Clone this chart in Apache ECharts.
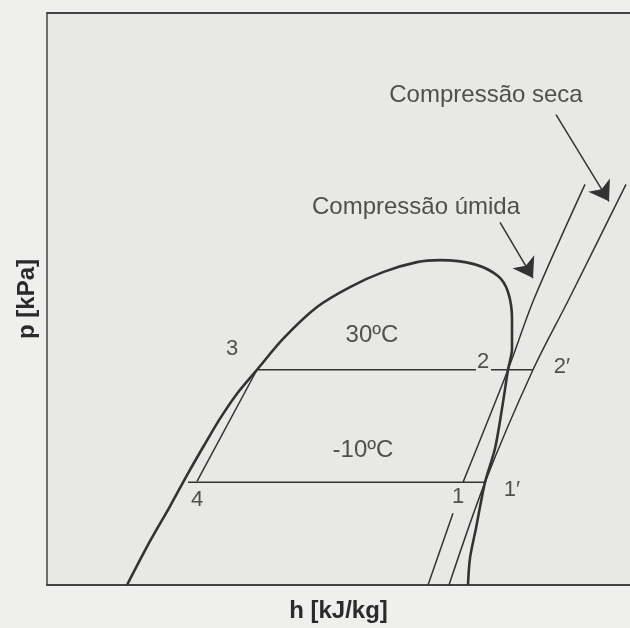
<!DOCTYPE html>
<html>
<head>
<meta charset="utf-8">
<script src="https://cdn.jsdelivr.net/npm/echarts@6/dist/echarts.min.js"></script>
<style>
  html, body { margin: 0; padding: 0; background: #efefed; }
  #chart { width: 630px; height: 628px; }
</style>
</head>
<body>
<div id="chart"></div>
<script>
// saturation dome (h, p in drawing units)
const domeH = [40, 51.5, 61.5, 70.5, 78.5, 86.5, 95, 105, 118, 135, 151.5, 168, 185, 196.5, 213.5, 225.5, 230.5, 232.5, 232.5, 230.5, 227.5, 224, 219, 214.5, 211.5, 210.5];
const domeP = [0, 22, 39.5, 56, 70, 83.5, 96, 108, 123.5, 139.5, 149.5, 157, 162, 163, 161, 155, 147, 133.5, 118.5, 108, 88.5, 68.5, 51.5, 28.5, 13.5, 0];

// cycle: condenser / evaporator pressures
const highP = 108;
const lowP = 51.5;
const condH = [105, 214.5];   // 3 -> label 2
const cond2H = [222, 243];    // after label 2 -> 2'
const evapH = [70.5, 219];    // 4 -> 1'
const expH = [105, 75];       // 3 -> 4
const expP = [108, 52];

// compression lines
const wetH = [269, 243.5, 230.5, 208];
const wetP = [201, 143.5, 108, 51.5];
const wetLowH = [203, 190.5];
const wetLowP = [36, 0];
const dryH = [289.5, 261, 243, 219, 201];
const dryP = [201, 143.5, 108, 51.5, 0];

// arrows [from, to]
const arrowSeca = [[254.5, 236], [281, 192.5]];
const arrowUmida = [[226.5, 182], [243, 154]];

// point labels
const pointText = ['3', '2', '2\u2032', '4', '1', '1\u2032'];
const pointH = [92.5, 218, 257.5, 75, 205.5, 232.5];
const pointP = [118.5, 112, 109.5, 42.5, 44, 47.5];

// other texts
const noteText = ['30ºC', '-10ºC', 'Compressão seca', 'Compressão úmida'];
const noteH = [162.5, 158, 219.5, 184.5];
const noteP = [125, 67.5, 245.5, 189.5];

const zip = (xs, ys) => xs.map((x, i) => [x, ys[i]]);
const ink = '#333';
const font = '"Liberation Sans", Arial, sans-serif';

const thin = (data) => ({
  type: 'line',
  data,
  symbol: 'none',
  smooth: 0.3,
  silent: true,
  lineStyle: { color: ink, width: 1.5 }
});

const textSeries = (texts, hs, ps, size) => ({
  type: 'scatter',
  silent: true,
  symbolSize: 1,
  itemStyle: { color: 'transparent' },
  data: texts.map((t, i) => ({ name: t, value: [hs[i], ps[i]] })),
  label: {
    show: true,
    position: 'inside',
    formatter: '{b}',
    color: '#282828',
    fontSize: size,
    fontFamily: font
  }
});

const chart = echarts.init(document.getElementById('chart'));

chart.setOption({
  backgroundColor: '#efefed',
  animation: false,
  grid: {
    left: 47, top: 13, bottom: 41, right: 0,
    show: true, backgroundColor: '#e8e8e6', borderWidth: 0
  },
  xAxis: [
    {
      type: 'value', min: 0, max: 291.5,
      name: 'h [kJ/kg]', nameLocation: 'middle', nameGap: 14,
      nameTextStyle: { fontFamily: font, fontWeight: 'bold', fontSize: 24, color: '#2a2a2a' },
      axisLine: { show: true, lineStyle: { color: '#444', width: 2 } },
      axisTick: { show: false }, axisLabel: { show: false }, splitLine: { show: false }
    },
    {
      type: 'value', min: 0, max: 291.5, position: 'top',
      axisLine: { show: true, lineStyle: { color: '#444', width: 2 } },
      axisTick: { show: false }, axisLabel: { show: false }, splitLine: { show: false }
    }
  ],
  yAxis: {
    type: 'value', min: 0, max: 287,
    name: 'p [kPa]', nameLocation: 'middle', nameGap: 8, nameRotate: 90,
    nameTextStyle: { fontFamily: font, fontWeight: 'bold', fontSize: 24, color: '#2a2a2a' },
    axisLine: { show: true, lineStyle: { color: '#444', width: 1.5 } },
    axisTick: { show: false }, axisLabel: { show: false }, splitLine: { show: false }
  },
  series: [
    {
      type: 'line',
      data: zip(domeH, domeP),
      symbol: 'none',
      smooth: 0.3,
      silent: true,
      lineStyle: { color: ink, width: 2.6 }
    },
    thin(condH.map(h => [h, highP])),
    thin(cond2H.map(h => [h, highP])),
    thin(evapH.map(h => [h, lowP])),
    thin(zip(expH, expP)),
    thin(zip(wetH, wetP)),
    thin(zip(wetLowH, wetLowP)),
    thin(zip(dryH, dryP)),
    {
      type: 'lines',
      coordinateSystem: 'cartesian2d',
      silent: true,
      symbol: ['none', 'arrow'],
      symbolSize: [12, 19],
      lineStyle: { color: ink, width: 1.5, opacity: 1 },
      data: [{ coords: arrowSeca }, { coords: arrowUmida }]
    },
    textSeries(pointText, pointH, pointP, 22),
    textSeries(noteText, noteH, noteP, 24)
  ]
});
</script>
</body>
</html>
